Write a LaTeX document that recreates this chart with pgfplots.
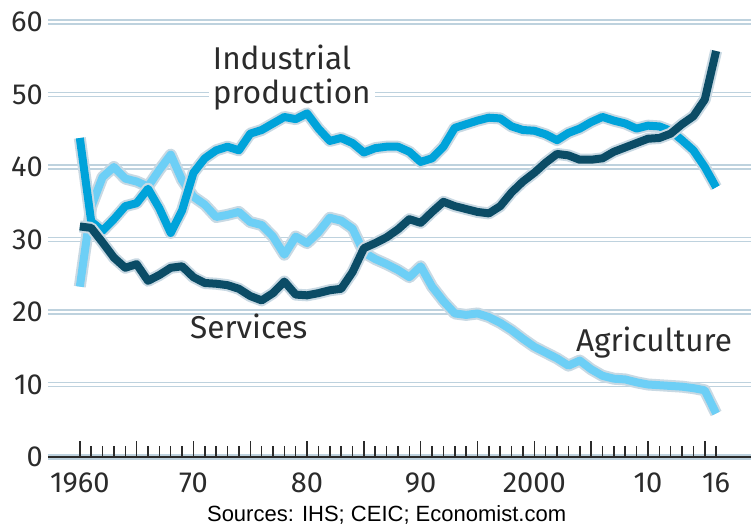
\documentclass[border=0pt]{standalone}
\usepackage{fontspec}
\setmainfont{Fira Sans}
\newfontfamily\srcfont{Liberation Sans}
\usepackage{pgfplots}
\pgfplotsset{compat=1.18}
\usepackage{pgfplotstable}

\definecolor{indcol}{HTML}{00A3DA}
\definecolor{srvcol}{HTML}{0B4C66}
\definecolor{agrcol}{HTML}{6DCFF6}
\definecolor{halocol}{HTML}{C9D9E3}
\definecolor{gridcol}{HTML}{BED2DE}
\definecolor{tickcol}{HTML}{2B2B2B}

\tikzset{lbl/.style={anchor=base west, inner sep=0pt, font=\fontsize{31.5}{33}\selectfont, text=tickcol}}

% share of GDP, %
\pgfplotstableread{
year ind  srv  agr
1960 44.0 31.8 23.5
1961 32.5 31.6 34.5
1962 31.2 29.6 38.6
1963 32.8 27.5 40.0
1964 34.6 26.1 38.4
1965 35.0 26.6 38.0
1966 37.0 24.3 37.3
1967 34.3 25.1 39.6
1968 30.9 26.1 41.7
1969 34.0 26.3 38.2
1970 39.2 24.8 35.9
1971 41.2 24.0 34.8
1972 42.3 23.9 33.1
1973 42.8 23.7 33.4
1974 42.3 23.2 33.8
1975 44.6 22.2 32.4
1976 45.1 21.6 32.0
1977 46.0 22.6 30.4
1978 46.9 24.2 27.9
1979 46.6 22.4 30.4
1980 47.4 22.3 29.5
1981 45.3 22.6 31.0
1982 43.6 23.0 33.0
1983 44.0 23.2 32.6
1984 43.3 25.5 31.5
1985 42.0 28.8 28.2
1986 42.6 29.5 27.3
1987 42.8 30.3 26.6
1988 42.8 31.4 25.8
1989 42.1 32.8 24.8
1990 40.7 32.3 26.3
1991 41.2 33.8 23.5
1992 42.8 35.2 21.5
1993 45.4 34.6 19.8
1994 45.9 34.2 19.6
1995 46.4 33.8 19.8
1996 46.8 33.6 19.3
1997 46.7 34.6 18.5
1998 45.6 36.5 17.5
1999 45.1 38.0 16.3
2000 45.0 39.2 15.2
2001 44.5 40.6 14.4
2002 43.7 41.8 13.6
2003 44.7 41.6 12.6
2004 45.3 41.0 13.3
2005 46.2 41.0 12.1
2006 46.9 41.2 11.2
2007 46.4 42.1 10.8
2008 46.0 42.7 10.7
2009 45.3 43.3 10.3
2010 45.7 43.9 10.0
2011 45.6 44.0 9.9
2012 45.0 44.6 9.8
2013 43.7 45.9 9.7
2014 42.3 47.0 9.5
2015 40.0 49.3 9.2
2016 37.2 56.0 6.0
}\sharedata

\begin{document}
\begin{tikzpicture}
\begin{axis}[
  scale only axis,
  width=703pt, height=435pt,
  xmin=1957.2, xmax=2019.07,
  ymin=0, ymax=60,
  clip=false,
  axis x line*=bottom, axis y line*=left,
  y axis line style={draw=none},
  x axis line style={-, draw=tickcol, line width=1.8pt},
  tick pos=left,
  tick align=inside,
  ytick={0,10,...,60},
  yticklabels={0,10,20,30,40,50,60},
  xtick={1960,1970,1980,1990,2000,2010,2016},
  xticklabels={1960,70,80,90,2000,10,16},
  major tick length=0pt,
  minor xtick={1960,1961,...,2016},
  minor tick length=11pt,
  minor x tick style={draw=tickcol, line width=1.5pt},
  extra x ticks={1960,1965,...,2015},
  extra x tick labels={},
  extra x tick style={major tick length=16pt, major x tick style={draw=tickcol, line width=1.5pt}},
  ymajorgrids,
  major grid style={draw=gridcol, line width=1.6pt, double=white, double distance=2.3pt},
  every tick label/.append style={font=\fontsize{29}{30}\selectfont, text=tickcol, inner sep=0pt},
  yticklabel style={xshift=-5pt},
  xticklabel style={yshift=-16pt},
  halo/.style={draw=halocol, line width=12pt, line join=round, line cap=butt, no markers},
  ser/.style={line width=8pt, line join=round, line cap=butt, no markers},
]
\node[lbl, fill=white, inner xsep=4pt, inner ysep=1pt] at (axis cs:1971.35,48.8) {production};
\node[lbl] at (axis cs:1971.7,53.4) {Industrial};

\addplot[halo] table[x=year, y=agr] {\sharedata};
\addplot[ser, draw=agrcol] table[x=year, y=agr] {\sharedata};
\addplot[halo] table[x=year, y=ind] {\sharedata};
\addplot[ser, draw=indcol] table[x=year, y=ind] {\sharedata};
\addplot[halo] table[x=year, y=srv] {\sharedata};
\addplot[ser, draw=srvcol] table[x=year, y=srv] {\sharedata};

\node[lbl] at (axis cs:1969.7,16.4) {Services};
\node[lbl] at (axis cs:2003.66,14.6) {Agriculture};
\node[inner sep=0pt, font=\srcfont\fontsize{22}{24}\selectfont, text=black]
  at (axis cs:1987.0,-8.0) {Sources: IHS; CEIC; Economist.com};

\coordinate (sw) at (rel axis cs:0,0);
\end{axis}
\pgfresetboundingbox
\path[use as bounding box] ([shift={(-48pt,-72pt)}]sw) rectangle ([shift={(703pt,457pt)}]sw);
\end{tikzpicture}
\end{document}
